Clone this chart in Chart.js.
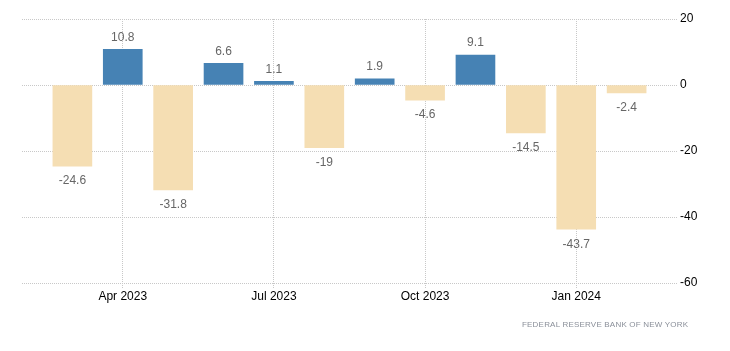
<!DOCTYPE html>
<html>
<head>
<meta charset="utf-8">
<script src="https://cdn.jsdelivr.net/npm/chart.js@4/dist/chart.umd.min.js"></script>
<style>
  html, body { margin: 0; padding: 0; background: #fff; }
  #wrap { position: relative; width: 730px; height: 351px; }
  #src { position: absolute; left: 522px; top: 320px; font: 8px "Liberation Sans", Arial, sans-serif; color: #8a8f99; letter-spacing: 0.2px; white-space: nowrap; }
</style>
</head>
<body>
<div id="wrap">
  <canvas id="c" width="730" height="351"></canvas>
  <div id="src">FEDERAL RESERVE BANK OF NEW YORK</div>
</div>
<script>
// Categories (monthly, with empty padding months at both ends)
const months = ['Feb 2023','Mar 2023','Apr 2023','May 2023','Jun 2023','Jul 2023','Aug 2023','Sep 2023','Oct 2023','Nov 2023','Dec 2023','Jan 2024','Feb 2024','Mar 2024'];
const values = [null, -24.6, 10.8, -31.8, 6.6, 1.1, -19, 1.9, -4.6, 9.1, -14.5, -43.7, -2.4, null];
const shownTicks = ['Apr 2023','Jul 2023','Oct 2023','Jan 2024'];
const yTicks = [20, 0, -20, -40, -60];

const POS = '#4682B4', NEG = '#F5DEB3';

const valueLabels = {
  id: 'valueLabels',
  afterDatasetsDraw(chart) {
    const ctx = chart.ctx;
    const meta = chart.getDatasetMeta(0);
    ctx.save();
    ctx.font = '12px "Liberation Sans", Arial, sans-serif';
    ctx.fillStyle = '#666';
    ctx.textAlign = 'center';
    ctx.textBaseline = 'middle';
    meta.data.forEach((el, i) => {
      const v = values[i];
      if (v === null || v === undefined) return;
      const y = v >= 0 ? el.y - 12 : el.y + 15;
      ctx.fillText(String(v), el.x, y);
    });
    ctx.restore();
  }
};

new Chart(document.getElementById('c'), {
  type: 'bar',
  data: {
    labels: months,
    datasets: [{
      data: values,
      backgroundColor: values.map(v => (v !== null && v >= 0) ? POS : NEG),
      borderWidth: 0,
      barThickness: 39
    }]
  },
  options: {
    responsive: false,
    animation: false,
    layout: { padding: { left: 22, top: 19, right: 0, bottom: 0 } },
    plugins: { legend: { display: false }, tooltip: { enabled: false } },
    scales: {
      x: {
        type: 'category',
        offset: false,
        border: { display: false, dash: [1, 1] },
        grid: {
          offset: false,
          color: ctx => (ctx.tick && shownTicks.includes(months[ctx.tick.value])) ? '#c8c8c8' : 'rgba(0,0,0,0)',
          tickColor: ctx => (ctx.tick && shownTicks.includes(months[ctx.tick.value])) ? '#c8c8c8' : 'rgba(0,0,0,0)',
          tickBorderDash: [1, 1],
          tickLength: 5,
          drawOnChartArea: true
        },
        ticks: {
          autoSkip: false,
          maxRotation: 0,
          padding: 1,
          color: '#000',
          font: { family: '"Liberation Sans", Arial, sans-serif', size: 12 },
          callback: function(v, i) { const l = months[i]; return shownTicks.includes(l) ? l : ''; }
        },
        afterFit(scale) { scale.height = 68; }
      },
      y: {
        position: 'right',
        min: -60,
        max: 20,
        border: { display: false, dash: [1, 1] },
        afterBuildTicks(scale) { scale.ticks = yTicks.map(v => ({ value: v })); },
        grid: { color: '#c8c8c8', drawTicks: false },
        ticks: {
          padding: 3,
          color: '#000',
          font: { family: '"Liberation Sans", Arial, sans-serif', size: 12 }
        },
        afterFit(scale) { scale.width = 53; }
      }
    }
  },
  plugins: [valueLabels]
});
</script>
</body>
</html>
